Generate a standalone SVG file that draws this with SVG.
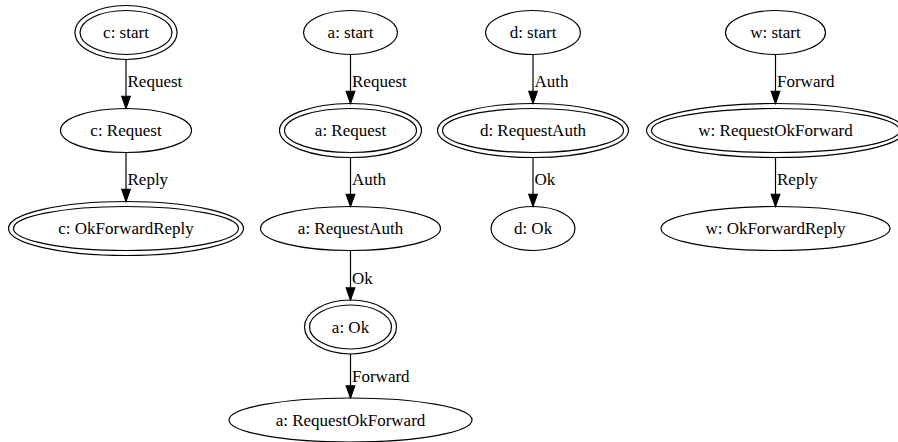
<svg xmlns="http://www.w3.org/2000/svg" width="898" height="442" viewBox="0 0 898 442" font-family="'Liberation Serif', 'Times New Roman', Times, serif" font-size="17">
<defs>
<style>
.n ellipse{fill:none;stroke:#000;stroke-width:1.2}
text{font-family:'Liberation Serif','Times New Roman',Times,serif;font-size:17px;fill:#000}
.n text{text-anchor:middle}
.e path{fill:none;stroke:#000;stroke-width:1.2}
</style>
<marker id="ah" markerUnits="userSpaceOnUse" viewBox="-1 -1 14.5 10.6" markerWidth="14.5" markerHeight="10.6" refX="12.25" refY="4.3" orient="auto">
<polygon points="0,0 12.25,4.3 0,8.6" fill="#000" stroke="#000" stroke-width="1.2"/>
</marker>
</defs>
<rect width="898" height="442" fill="#fff"/>
<g id="c_start" class="n"><ellipse cx="126" cy="32.5" rx="46" ry="22"/><ellipse cx="126" cy="32.5" rx="51" ry="27"/><text x="126" y="38">c: start</text></g>
<g id="c_Request" class="n"><ellipse cx="126" cy="130.5" rx="65.5" ry="22"/><text x="126" y="136">c: Request</text></g>
<g id="c_OkForwardReply" class="n"><ellipse cx="126" cy="228.5" rx="112.5" ry="22"/><ellipse cx="126" cy="228.5" rx="117.5" ry="27"/><text x="126" y="234">c: OkForwardReply</text></g>
<g id="a_start" class="n"><ellipse cx="350.5" cy="32.5" rx="47" ry="22"/><text x="350.5" y="38">a: start</text></g>
<g id="a_Request" class="n"><ellipse cx="350.5" cy="130.5" rx="66" ry="22"/><ellipse cx="350.5" cy="130.5" rx="71" ry="27"/><text x="350.5" y="136">a: Request</text></g>
<g id="a_RequestAuth" class="n"><ellipse cx="350.5" cy="228.5" rx="90" ry="22"/><text x="350.5" y="234">a: RequestAuth</text></g>
<g id="a_Ok" class="n"><ellipse cx="350.5" cy="327" rx="41" ry="22"/><ellipse cx="350.5" cy="327" rx="46" ry="27"/><text x="350.5" y="332.5">a: Ok</text></g>
<g id="a_RequestOkForward" class="n"><ellipse cx="350.5" cy="420" rx="121.5" ry="22"/><text x="350.5" y="425.5">a: RequestOkForward</text></g>
<g id="d_start" class="n"><ellipse cx="533" cy="32.5" rx="47.5" ry="22"/><text x="533" y="38">d: start</text></g>
<g id="d_RequestAuth" class="n"><ellipse cx="533" cy="130.5" rx="90.5" ry="22"/><ellipse cx="533" cy="130.5" rx="95.5" ry="27"/><text x="533" y="136">d: RequestAuth</text></g>
<g id="d_Ok" class="n"><ellipse cx="533" cy="228.5" rx="42" ry="22"/><text x="533" y="234">d: Ok</text></g>
<g id="w_start" class="n"><ellipse cx="775.5" cy="32.5" rx="50" ry="22"/><text x="775.5" y="38">w: start</text></g>
<g id="w_RequestOkForward" class="n"><ellipse cx="775.5" cy="130.5" rx="124" ry="22"/><ellipse cx="775.5" cy="130.5" rx="129" ry="27"/><text x="775.5" y="136">w: RequestOkForward</text></g>
<g id="w_OkForwardReply" class="n"><ellipse cx="775.5" cy="228.5" rx="114.5" ry="22"/><text x="775.5" y="234">w: OkForwardReply</text></g>
<g id="connectors" class="e">
<path d="M126,59.5V108.5" marker-end="url(#ah)"/><text x="127.5" y="87">Request</text>
<path d="M126,152.5V201.5" marker-end="url(#ah)"/><text x="127.5" y="185">Reply</text>
<path d="M350.5,54.5V103.5" marker-end="url(#ah)"/><text x="352" y="87">Request</text>
<path d="M350.5,157.5V206.5" marker-end="url(#ah)"/><text x="352" y="185">Auth</text>
<path d="M350.5,250.5V300" marker-end="url(#ah)"/><text x="352" y="283.5">Ok</text>
<path d="M350.5,354V398" marker-end="url(#ah)"/><text x="352" y="381.5">Forward</text>
<path d="M533,54.5V103.5" marker-end="url(#ah)"/><text x="534.5" y="87">Auth</text>
<path d="M533,157.5V206.5" marker-end="url(#ah)"/><text x="534.5" y="185">Ok</text>
<path d="M775.5,54.5V103.5" marker-end="url(#ah)"/><text x="777" y="87">Forward</text>
<path d="M775.5,157.5V206.5" marker-end="url(#ah)"/><text x="777" y="185">Reply</text>
</g>
</svg>
